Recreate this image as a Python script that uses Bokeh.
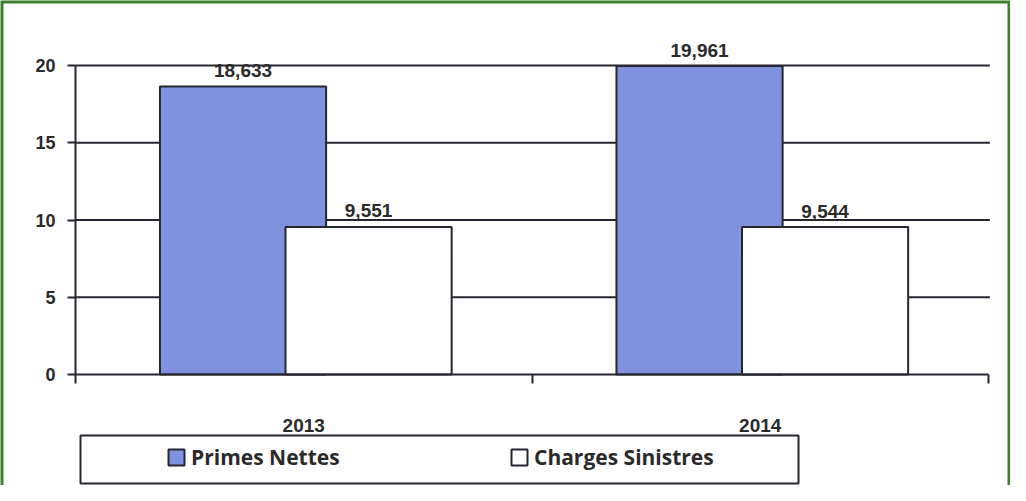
from bokeh.plotting import figure
from bokeh.models import (LinearAxis, FixedTicker, Range1d, ColumnDataSource,
                          Legend, LegendItem, BoxAnnotation)
from bokeh.core.properties import value
from bokeh.embed import file_html
from bokeh.resources import INLINE

# ---- data ----
years = ["2013", "2014"]
primes_nettes = [18.633, 19.961]
charges_sinistres = [9.551, 9.544]
y_ticks = [0, 5, 10, 15, 20]
series_names = ["Primes Nettes", "Charges Sinistres"]

# ---- layout constants (pixels inside the 1010x485 canvas) ----
W, H = 1010, 485
AX_LEFT, AX_RIGHT = 75, 988      # x of category 0 and category N
Y_ZERO, Y_TOP = 374, 65          # y (from top) of value 0 and value 20
n = len(years)
px_per_x = (AX_RIGHT - AX_LEFT) / n
px_per_y = (Y_ZERO - Y_TOP) / y_ticks[-1]
x_start = -AX_LEFT / px_per_x
x_end = n + (W - AX_RIGHT) / px_per_x
y_end = y_ticks[-1] + Y_TOP / px_per_y
y_start = -(H - Y_ZERO) / px_per_y

DARK = "#26262e"
BLUE = "#7f92df"
GREEN = "#3e7f2f"

p = figure(width=W, height=H, output_backend="svg", toolbar_location=None,
           x_range=Range1d(x_start, x_end), y_range=Range1d(y_start, y_end),
           min_border=0, min_border_left=0, min_border_right=0,
           min_border_top=0, min_border_bottom=0)
p.xaxis.visible = False
p.yaxis.visible = False
p.xgrid.visible = False
p.ygrid.visible = False
p.outline_line_color = None
p.background_fill_color = "white"
p.border_fill_color = "white"

# horizontal grid lines from the y ticks
grid_ticks = [t for t in y_ticks if t != 0]
p.segment(x0=[0] * len(grid_ticks), x1=[n + 0.003] * len(grid_ticks),
          y0=grid_ticks, y1=grid_ticks, line_color=DARK, line_width=2)

# bars
off_p, off_c, bw = -0.133, 0.142, 0.364
src = ColumnDataSource(dict(
    xp=[i + 0.5 + off_p for i in range(n)],
    xc=[i + 0.5 + off_c for i in range(n)],
    primes=primes_nettes,
    charges=charges_sinistres,
    lp=[f"{v:.3f}".replace(".", ",") for v in primes_nettes],
    lc=[f"{v:.3f}".replace(".", ",") for v in charges_sinistres],
))
r1 = p.vbar(x="xp", top="primes", bottom=0, width=bw, source=src,
            fill_color=BLUE, line_color=DARK, line_width=2)
r2 = p.vbar(x="xc", top="charges", bottom=0, width=bw, source=src,
            fill_color="white", line_color=DARK, line_width=2)

lab_kw = dict(text_align="center", text_baseline="alphabetic", y_offset=-16,
              text_font=value("Liberation Sans"), text_font_style="bold",
              text_font_size="19px", text_color="#2a2a2a")
p.text(x="xp", y="primes", text="lp", source=src, **lab_kw)
p.text(x="xc", y="charges", text="lc", source=src, **lab_kw)

# y axis at x = 0
yaxis = LinearAxis(fixed_location=0, ticker=FixedTicker(ticks=y_ticks),
                   bounds=(y_ticks[0], y_ticks[-1]))
yaxis.axis_line_color = DARK
yaxis.axis_line_width = 2
yaxis.major_tick_line_color = DARK
yaxis.major_tick_line_width = 2
yaxis.major_tick_out = 8
yaxis.major_tick_in = 0
yaxis.minor_tick_line_color = None
yaxis.major_label_standoff = 12
yaxis.major_label_text_font = "Liberation Sans"
yaxis.major_label_text_font_style = "bold"
yaxis.major_label_text_font_size = "18px"
yaxis.major_label_text_color = "#2a2a2a"
p.add_layout(yaxis, "left")

# x axis line with category boundary ticks
xaxis = LinearAxis(fixed_location=0, ticker=FixedTicker(ticks=list(range(n + 1))),
                   bounds=(0, n))
xaxis.axis_line_color = DARK
xaxis.axis_line_width = 2
xaxis.major_tick_line_color = DARK
xaxis.major_tick_line_width = 2
xaxis.major_tick_out = 9
xaxis.major_tick_in = 0
xaxis.minor_tick_line_color = None
xaxis.major_label_text_font_size = "0px"
xaxis.major_label_overrides = {i: "" for i in range(n + 1)}
p.add_layout(xaxis, "below")

# category labels axis
cat_ticks = [i + 0.5 for i in range(n)]
caxis = LinearAxis(fixed_location=0, ticker=FixedTicker(ticks=cat_ticks))
caxis.axis_line_color = None
caxis.major_tick_line_color = None
caxis.minor_tick_line_color = None
caxis.major_tick_out = 0
caxis.major_tick_in = 0
caxis.major_label_standoff = 44
caxis.major_label_overrides = {t: y for t, y in zip(cat_ticks, years)}
caxis.major_label_text_font = "Liberation Sans"
caxis.major_label_text_font_style = "bold"
caxis.major_label_text_font_size = "19px"
caxis.major_label_text_color = "#2a2a2a"
p.add_layout(caxis, "below")

# legend box + legend
p.add_layout(BoxAnnotation(left=80, right=798, bottom=2, top=50,
                           left_units="screen", right_units="screen",
                           top_units="screen", bottom_units="screen",
                           fill_color="white", fill_alpha=1,
                           line_color=DARK, line_width=2, line_alpha=1))
legend = Legend(items=[LegendItem(label=series_names[0], renderers=[r1]),
                       LegendItem(label=series_names[1], renderers=[r2])],
                orientation="horizontal", location=(166, 14),
                padding=0, margin=0, border_line_alpha=0,
                background_fill_alpha=0, glyph_width=20, glyph_height=20,
                label_standoff=5, label_width=300, spacing=18,
                label_text_font="Open Sans", label_text_font_style="bold",
                label_text_font_size="21px", label_text_color="#2a2a2a")
p.add_layout(legend)

# green frame (bottom edge runs below the canvas, as in the cropped original)
p.add_layout(BoxAnnotation(left=1, right=W - 1, top=H - 1, bottom=-20,
                           left_units="screen", right_units="screen",
                           top_units="screen", bottom_units="screen",
                           fill_alpha=0, line_color=GREEN, line_width=4,
                           line_alpha=1, level="overlay"))

open("out.html", "w").write(file_html(p, INLINE))
